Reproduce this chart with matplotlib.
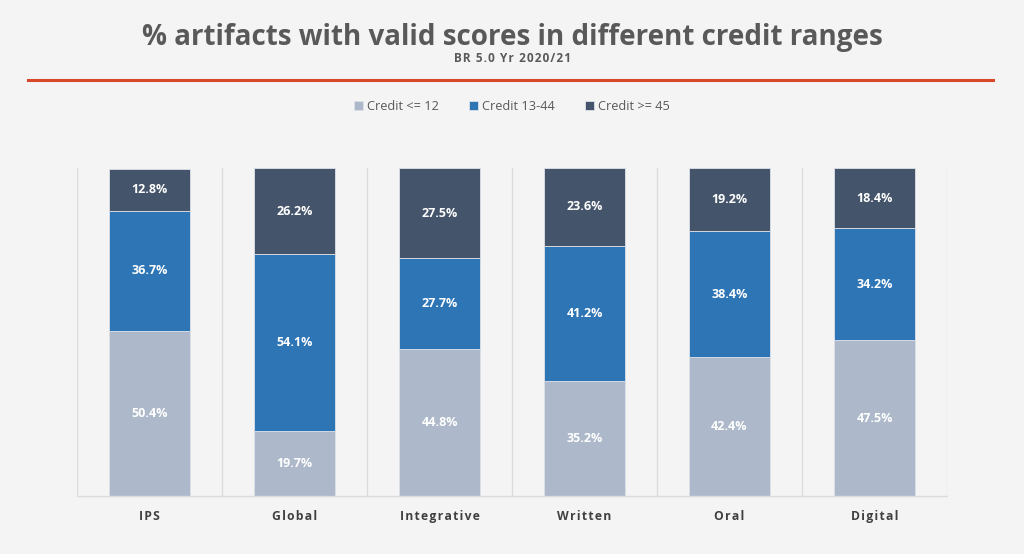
import numpy as np
import matplotlib.pyplot as plt
from matplotlib.lines import Line2D

categories = ["IPS", "Global", "Integrative", "Written", "Oral", "Digital"]
series_names = ["Credit <= 12", "Credit 13-44", "Credit >= 45"]
credit_low = [50.4, 19.7, 44.8, 35.2, 42.4, 47.5]
credit_mid = [36.7, 54.1, 27.7, 41.2, 38.4, 34.2]
credit_high = [12.8, 26.2, 27.5, 23.6, 19.2, 18.4]

colors = ["#adb9ca", "#2e75b6", "#44546a"]
bg = "#f4f4f4"

plt.rcParams['font.family'] = ['Open Sans', 'DejaVu Sans']


def spaced(s):
    # fake letter spacing with hair spaces
    return "\u200a".join(s)


fig = plt.figure(figsize=(10.24, 5.54), dpi=100, facecolor=bg)
ax = fig.add_axes([0.0752, 0.1047, 0.8496, 0.5921], facecolor=bg)

x = np.arange(len(categories))
series = [credit_low, credit_mid, credit_high]
bottom = np.zeros(len(categories))
for vals, col, name in zip(series, colors, series_names):
    vals = np.array(vals)
    ax.bar(x, vals, 0.56, bottom=bottom, color=col, label=name,
           edgecolor="#dde1e8", linewidth=0.6, zorder=2)
    for xi, b, v in zip(x, bottom, vals):
        ax.text(xi, b + v / 2, f"{v:.1f}%", ha="center", va="center",
                color="white", fontsize=9, fontweight="bold", zorder=3)
    bottom = bottom + vals

ax.set_xlim(-0.5, len(categories) - 0.5)
ax.set_ylim(0, bottom.max())
ax.set_yticks([])
ax.set_xticks(x)
ax.set_xticklabels([spaced(c) for c in categories], fontsize=8.7,
                   fontweight="bold", color="#404040")
ax.tick_params(axis="x", length=0, pad=10)

# category separators
for sep in np.arange(-0.5, len(categories), 1.0):
    ax.axvline(sep, color="#dcdcdc", linewidth=1.0, zorder=1)
for side in ["top", "right", "left"]:
    ax.spines[side].set_visible(False)
ax.spines["bottom"].set_color("#dcdcdc")
ax.spines["bottom"].set_linewidth(1.0)

fig.text(0.5, 0.932, "% artifacts with valid scores in different credit ranges",
         ha="center", va="center", fontsize=20, fontweight="bold", color="#595959")
fig.text(0.5, 0.894, spaced("BR 5.0 Yr 2020/21"), ha="center", va="center",
         fontsize=8.5, fontweight="bold", color="#595959")
fig.add_artist(Line2D([0.027, 0.970], [0.856, 0.856], color="#d9472b",
                      linewidth=2.2, transform=fig.transFigure))

handles, labels = ax.get_legend_handles_labels()
fig.legend(handles, labels, loc="center", bbox_to_anchor=(0.5, 0.808), ncol=3,
           frameon=False, fontsize=9.2, labelcolor="#595959",
           handlelength=0.7, handleheight=0.7, handletextpad=0.3, columnspacing=2.4)

fig.savefig("out.png", dpi=100, facecolor=bg)
